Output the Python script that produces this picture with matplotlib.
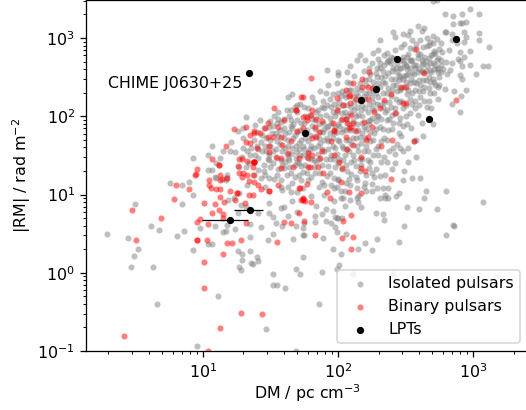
import numpy as np
import matplotlib
matplotlib.use('Agg')
import matplotlib.pyplot as plt

# values, as (log10 DM, log10 RM)
isolated = [
    (0.29,0.49),(0.50,0.88),(0.45,0.44),(0.52,0.30),(0.49,0.21),(0.47,0.07),(0.63,0.07),(0.66,-0.40),
    (0.62,0.60),(0.68,0.54),(0.81,0.47),(0.86,0.53),(0.85,0.88),(0.93,0.99),(0.76,1.15),(0.85,1.12),
    (0.90,1.16),(0.93,0.29),(1.04,0.37),(1.07,0.37),(0.96,-0.93),(1.11,-0.30),(1.47,-0.72),(1.69,-1.0),
    (1.52,-0.01),(1.52,-0.16),(1.55,-0.16),(1.61,-0.19),(1.27,0.07),(1.28,0.03),(1.29,0.16),(1.26,0.28),
    (1.29,0.24),(1.35,0.28),(1.36,0.13),(1.37,0.11),(1.40,0.20),(1.41,0.15),(1.69,0.05),(1.72,-0.02),
    (1.74,0.20),(1.48,0.42),(1.67,0.43),(1.52,0.50),(1.35,0.46),(1.15,0.52),(1.17,0.53),(1.09,0.60),
    (0.98,0.57),(1.18,0.61),(1.24,0.56),(1.35,0.62),(1.43,0.58),(1.59,0.60),(1.69,0.60),(1.74,0.57),
    (1.74,0.48),(1.86,-0.40),(1.88,0.01),(1.99,0.05),(2.01,0.10),(2.11,-0.01),(2.41,-0.01),(2.02,0.24),
    (1.96,0.30),(2.15,0.30),(2.25,0.29),(2.20,0.38),(2.29,0.43),(2.45,0.39),(2.80,0.48),(2.85,0.61),
    (2.86,0.60),(2.49,0.60),(3.07,0.90),(2.73,0.82),(2.60,0.82),(2.51,0.84),(2.80,1.04),(2.65,1.04),
    (2.64,0.95),(2.33,0.75),(2.34,0.67),(2.28,0.77),(1.89,0.45),(2.06,0.50),(1.99,0.52),(1.98,0.58),
    (1.99,0.70),(1.95,0.63),(1.91,0.66),(1.83,0.65),(1.88,0.75),(1.83,0.72),(1.91,0.82),(1.96,0.79),
    (2.03,0.70),(2.00,0.70),(1.98,0.71),(1.75,0.48),(1.75,0.63),(2.15,0.90),(2.17,0.84),(2.14,0.96),
    (2.09,0.93),(2.04,0.95),(2.02,0.95),(1.97,1.08),(2.05,1.04),(2.14,1.08),(2.19,1.10),(2.25,1.13),
    (2.21,1.04),(2.25,1.05),(2.33,1.08),(2.37,1.08),(2.35,1.00),(2.31,0.95),(2.37,0.95),(2.43,0.98),
    (2.45,1.02),(2.35,0.95),(2.48,1.18),(2.55,1.21),(2.61,1.21),(2.14,1.18),(2.06,1.15),(2.21,1.25),
    (2.31,1.24),(2.00,1.18),(1.97,1.21),
    # upper right
    (2.70,3.47),(2.73,3.48),(2.79,3.31),(2.85,3.28),(2.92,3.31),(2.98,3.37),(3.04,3.31),(2.85,3.18),
    (2.90,3.19),(2.92,3.19),(2.95,3.20),(2.59,3.15),(2.64,3.13),(2.62,3.09),(2.79,3.08),(2.80,3.08),
    (2.84,3.05),(2.93,3.08),(3.04,3.06),(2.95,3.01),(3.04,2.98),(3.12,2.88),(2.41,3.08),(2.42,3.01),
    (2.48,3.05),(2.53,3.09),(2.52,3.04),(2.31,2.97),(2.70,3.03),(2.73,2.99),(2.76,2.94),(2.66,3.00),
    (2.68,2.95),(2.61,2.97),(2.49,2.92),(2.55,2.97),(2.47,2.88),(2.53,2.87),(2.58,2.92),(2.63,2.88),
    (2.67,2.91),(2.70,2.94),(2.88,2.94),(2.84,2.97),(2.93,2.95),(2.90,2.82),(2.98,2.83),(2.82,2.85),
    (2.75,2.86),(2.71,2.83),(2.80,2.69),(2.84,2.68),(2.89,2.73),(2.93,2.76),(2.90,2.71),(2.92,2.64),
    (2.98,2.65),(3.07,2.64),(3.11,2.64),(3.02,2.54),(2.83,2.59),(2.81,2.54),(2.90,2.53),(2.92,2.48),
    (2.95,2.33),(2.86,2.32),(2.91,2.26),(2.84,2.16),(2.90,2.05),(1.92,2.59),(2.00,2.57),(2.07,2.57),
    (2.00,2.53),(2.09,2.64),(2.16,2.78),(2.20,2.72),(2.14,2.72),(2.26,2.81),(2.30,2.85),(2.30,2.73),
    (2.36,2.81),(2.31,2.68),(2.36,2.69),(2.39,2.76),(2.48,2.76),(2.53,2.72),(2.50,2.65),(2.47,2.62),
    (2.41,2.62),(2.45,2.53),(2.50,2.53),(2.56,2.65),(2.59,2.74),(2.63,2.68),(2.67,2.74),(2.72,2.81),
    (2.74,2.74),(2.70,2.68),(2.76,2.65),(2.74,2.56),(2.68,2.59),
    # left edge of the cloud
    (0.93,1.47),(1.04,1.51),(1.07,1.62),(1.15,1.56),(1.20,1.56),(1.21,1.67),(1.32,1.99),(1.26,1.81),
    (1.30,1.85),(1.63,2.25),(1.66,2.28),(1.72,2.16),(1.70,2.15),(1.65,2.08),(1.62,2.08),(1.56,2.05),
    (1.50,1.94),(1.60,1.96),(1.65,1.95),(1.56,1.97),(1.55,1.91),(1.49,1.86),(1.45,1.85),(1.39,1.89),
    (1.40,1.80),(1.10,1.40),(1.13,1.47),(1.07,1.31),(1.04,1.31),(1.09,1.22),(1.18,1.25),(1.17,1.21),
    (1.24,1.54),(1.30,1.59),(1.29,1.48),(1.27,1.35),(1.32,1.35),(1.41,1.47),(1.45,1.38),(1.49,1.51),
    (1.58,1.44),(1.63,1.47),(1.69,1.54),(1.74,1.51),(1.70,1.41),(1.78,1.54),(1.60,1.34),(1.50,1.35),
    (1.41,1.31),(1.37,1.25),(1.46,1.25),(1.55,1.25),(1.65,1.27),(1.74,1.29),(1.10,1.21),(1.17,1.19),
    (1.19,0.93),(1.23,0.95),(1.27,1.02),(1.33,1.12),(1.43,1.21),(1.49,1.21),(1.58,1.18),(1.63,1.09),
    (1.65,1.03),(1.70,1.03),(1.59,1.06),(1.49,0.89),(1.49,0.77),(1.52,0.71),(1.58,0.83),(1.60,0.84),
    (1.28,0.86),(1.32,0.84),(1.26,0.77),(1.41,0.76),(1.54,0.63),(1.63,0.72),(1.70,0.78),(1.66,0.92),
    # main cloud, first pass
    (1.30,1.72),(1.33,1.55),(1.34,1.40),(1.36,1.60),(1.38,1.70),(1.39,1.50),(1.42,1.95),(1.43,1.67),
    (1.44,1.55),(1.45,1.30),(1.46,1.10),(1.47,1.72),(1.48,1.46),(1.50,1.62),(1.51,1.79),(1.52,1.40),
    (1.53,1.20),(1.53,2.00),(1.54,1.58),(1.55,1.68),(1.56,1.33),(1.57,1.82),(1.58,1.10),(1.59,1.55),
    (1.60,1.72),(1.60,1.85),(1.61,1.42),(1.62,1.25),(1.63,1.62),(1.64,1.80),(1.64,2.00),(1.65,1.52),
    (1.66,1.15),(1.67,1.72),(1.67,1.90),(1.68,1.38),(1.69,1.62),(1.70,2.05),(1.70,1.80),(1.71,1.25),
    (1.72,1.50),(1.73,1.70),(1.73,1.92),(1.74,1.08),(1.75,2.12),(1.75,1.58),(1.76,1.38),(1.77,1.82),
    (1.78,1.68),(1.78,1.18),(1.79,2.02),(1.80,1.45),(1.80,0.98),(1.81,1.88),(1.82,1.60),(1.82,2.18),
    (1.83,1.28),(1.83,1.75),(1.84,0.85),(1.85,2.08),(1.85,1.52),(1.86,1.90),(1.86,1.10),(1.87,1.66),
    (1.87,2.32),(1.88,1.38),(1.89,1.80),(1.89,2.20),(1.90,1.00),(1.90,1.56),(1.91,2.02),(1.92,1.24),
    (1.92,1.72),(1.93,2.40),(1.93,1.88),(1.94,1.45),(1.95,2.12),(1.95,1.12),(1.96,1.62),(1.96,2.28),
    (1.97,1.78),(1.97,0.92),(1.98,1.35),(1.98,2.00),(1.99,1.52),(1.99,2.42),(2.00,1.90),(2.00,1.20),
    (2.01,2.18),(2.01,1.68),(2.02,1.05),(2.03,2.32),(2.03,1.80),(2.04,1.44),(2.05,2.06),(2.05,0.85),
    (2.06,1.58),(2.06,2.24),(2.07,1.30),(2.07,2.44),(2.08,1.70),(2.08,1.90),(2.09,1.12),(2.10,2.12),
    (2.10,2.34),(2.11,1.50),(2.12,1.82),(2.12,2.52),(2.13,1.22),(2.13,2.00),(2.14,1.62),(2.15,2.26),
    (2.15,0.98),(2.16,2.42),(2.16,1.74),(2.17,1.38),(2.18,1.92),(2.18,2.15),(2.19,2.58),(2.19,1.55),
    (2.20,1.15),(2.21,2.30),(2.21,1.84),(2.22,2.05),(2.22,1.44),(2.23,2.48),(2.24,1.68),(2.24,1.95),
    (2.25,2.68),(2.25,1.28),(2.26,2.18),(2.27,1.78),(2.27,2.38),(2.28,1.58),(2.28,2.55),(2.29,1.08),
    (2.30,2.00),(2.30,2.25),(2.31,1.86),(2.31,2.62),(2.32,1.42),(2.33,2.44),(2.33,2.12),(2.34,1.72),
    (2.34,2.78),(2.35,1.25),(2.36,2.30),(2.36,1.95),(2.37,2.55),(2.38,1.55),(2.38,2.18),(2.39,2.68),
    (2.40,2.02),(2.40,1.84),(2.41,2.40),(2.42,1.40),(2.42,2.85),(2.43,2.22),(2.44,2.56),(2.44,1.65),
    (2.45,1.92),(2.46,2.72),(2.46,2.34),(2.47,1.75),(2.48,2.48),(2.48,2.10),(2.49,1.30),(2.50,2.64),
    (2.50,2.00),(2.51,2.28),(2.52,2.80),(2.52,1.60),(2.53,2.42),(2.54,1.85),(2.55,2.55),(2.55,2.16),
    (2.56,2.86),(2.57,2.34),(2.58,1.48),(2.58,2.66),(2.59,2.02),(2.60,2.46),(2.61,2.80),(2.61,2.24),
    (2.62,2.58),(2.63,1.75),(2.64,2.38),(2.65,2.70),(2.66,2.12),(2.66,2.90),(2.67,2.50),(2.68,2.30),
    (2.69,2.78),(2.70,1.90),(2.71,2.60),(2.72,2.40),(2.73,2.72),(2.74,2.22),(2.75,2.50),(2.77,2.82),
    (2.78,2.60),(2.79,2.35),(2.58,1.70),(2.52,1.42),
    # main cloud, second pass
    (1.40,1.62),(1.47,1.56),(1.52,1.88),(1.56,1.75),(1.61,1.60),(1.66,1.85),(1.68,2.12),(1.71,1.66),
    (1.75,1.80),(1.76,2.00),(1.79,1.58),(1.81,2.25),(1.83,1.95),(1.84,1.42),(1.86,1.72),(1.88,2.12),
    (1.90,1.84),(1.91,2.30),(1.93,1.58),(1.94,1.98),(1.96,2.05),(1.97,1.46),(1.99,1.80),(2.00,2.30),
    (2.02,1.95),(2.04,1.60),(2.04,2.14),(2.06,1.82),(2.07,2.00),(2.09,2.42),(2.10,1.42),(2.11,1.72),
    (2.12,2.18),(2.14,1.90),(2.14,2.36),(2.15,1.55),(2.17,2.08),(2.18,1.78),(2.20,2.46),(2.20,2.22),
    (2.21,1.62),(2.23,1.90),(2.23,2.62),(2.25,2.10),(2.26,2.32),(2.26,1.50),(2.28,1.94),(2.29,2.16),
    (2.29,2.50),(2.31,2.38),(2.32,1.68),(2.33,2.58),(2.35,2.05),(2.35,2.42),(2.37,1.82),(2.38,2.70),
    (2.39,2.26),(2.39,2.48),(2.41,1.60),(2.42,2.10),(2.43,2.62),(2.44,2.32),(2.45,1.78),(2.46,2.50),
    (2.47,2.20),(2.49,2.68),(2.49,2.38),(2.51,1.90),(2.52,2.54),(2.53,2.22),(2.54,2.70),(2.56,2.44),
    (2.57,2.10),(2.59,2.56),(2.60,2.32),(2.62,2.72),(2.63,2.46),(2.64,2.20),(2.65,2.58),(2.67,2.36),
    (2.68,2.68),(2.70,2.48),(2.71,2.30),(2.73,2.60),(2.75,2.40),(2.76,2.72),(2.69,2.10),(2.62,1.92),
    (2.56,1.68),(2.48,1.55),(2.40,1.32),(2.34,1.48),(2.27,1.22),(2.23,1.34),(2.16,1.30),(2.08,1.20),
    (2.03,1.32),(1.94,1.28),(1.88,1.16),(1.82,1.35),(1.77,1.28),(1.71,1.40),(1.64,1.35),
    # main cloud, third pass
    (1.35,1.50),(1.37,1.42),(1.41,1.58),(1.44,1.76),(1.46,1.62),(1.49,1.44),(1.50,1.70),(1.52,1.56),
    (1.54,1.78),(1.55,1.47),(1.57,1.65),(1.58,1.93),(1.59,1.38),(1.61,1.78),(1.62,1.52),(1.63,1.70),
    (1.64,1.44),(1.65,1.88),(1.66,1.60),(1.68,1.76),(1.69,1.47),(1.70,1.95),(1.71,1.58),(1.72,1.82),
    (1.73,1.36),(1.74,1.62),(1.75,1.92),(1.76,1.72),(1.77,1.48),(1.78,2.10),(1.79,1.76),(1.80,1.62),
    (1.81,1.96),(1.82,1.44),(1.83,1.84),(1.84,2.05),(1.85,1.62),(1.86,1.46),(1.87,1.80),(1.87,2.00),
    (1.88,1.58),(1.89,1.92),(1.90,2.10),(1.90,1.70),(1.91,1.45),(1.92,1.86),(1.92,2.14),(1.93,1.68),
    (1.94,2.22),(1.94,1.78),(1.95,1.50),(1.95,1.92),(1.96,1.72),(1.97,2.16),(1.98,1.86),(1.98,1.60),
    (1.99,2.06),(2.00,1.70),(2.00,2.12),(2.01,1.45),(2.01,1.88),(2.02,2.26),(2.03,1.62),(2.03,2.04),
    (2.04,1.84),(2.05,2.28),(2.05,1.50),(2.06,1.96),(2.06,1.70),(2.07,2.14),(2.08,2.34),(2.08,1.56),
    (2.09,1.82),(2.09,2.04),(2.10,1.64),(2.11,2.24),(2.11,1.94),(2.12,1.44),(2.12,2.08),(2.13,1.72),
    (2.13,2.30),(2.14,2.12),(2.15,1.82),(2.15,2.02),(2.16,1.46),(2.16,2.20),(2.17,1.66),(2.17,2.34),
    (2.18,2.00),(2.19,1.86),(2.19,2.26),(2.20,1.72),(2.20,2.10),(2.21,2.40),(2.22,1.94),(2.22,1.56),
    (2.23,2.16),(2.23,2.30),(2.24,1.80),(2.24,2.54),(2.25,1.98),(2.25,2.24),(2.26,1.70),(2.26,2.44),
    (2.27,2.08),(2.28,1.84),(2.28,2.30),(2.29,2.00),(2.29,2.62),(2.30,1.62),(2.30,2.42),(2.31,2.14),
    (2.32,1.96),(2.32,2.50),(2.33,2.30),(2.33,1.84),(2.34,2.66),(2.34,2.18),(2.35,2.52),(2.36,2.08),
    (2.36,1.70),(2.37,2.36),(2.37,2.72),(2.38,1.96),(2.39,2.12),(2.40,2.58),(2.40,2.34),(2.41,1.92),
    (2.41,2.74),(2.42,2.48),(2.43,2.04),(2.43,2.40),(2.44,2.68),(2.45,2.18),(2.45,2.46),(2.46,1.98),
    (2.46,2.62),(2.47,2.36),(2.48,2.72),(2.48,1.88),(2.49,2.52),(2.50,2.14),(2.50,2.44),(2.51,2.60),
    (2.51,2.76),(2.52,2.34),(2.53,2.04),(2.53,2.62),(2.54,2.48),(2.55,2.30),(2.55,2.72),(2.56,2.54),
    (2.57,2.20),(2.57,2.62),(2.58,2.42),(2.59,2.80),(2.60,2.14),(2.60,2.60),(2.61,2.40),(2.62,2.66),
    (2.63,2.32),(2.63,2.56),(2.64,2.76),(2.65,2.46),(2.66,2.64),(2.67,2.20),(2.68,2.44),(2.69,2.56),
    (2.70,2.80),(2.71,2.44),(2.72,2.66),(2.74,2.38),(2.74,2.62),(2.76,2.56),(2.46,1.60),(2.36,1.42),
    (2.30,1.50),(2.24,1.42),(2.18,1.46),(2.13,1.36),(2.06,1.38),(2.00,1.40),(1.93,1.36),(1.87,1.28),
    (1.80,1.22),(1.73,1.18),(1.68,1.22),(1.90,1.12),(1.99,1.10),(2.10,1.26),(2.28,1.32),(2.42,1.52),
]

binary = [
    (0.48,0.80),(0.51,0.42),(0.69,0.70),(0.79,0.94),(0.80,1.12),(0.90,1.07),(0.96,0.65),(0.98,0.69),
    (0.96,0.42),(0.96,0.42),(1.04,0.62),(1.03,0.42),(1.01,0.14),(1.01,-0.19),(1.15,0.24),(1.18,0.38),
    (1.22,0.38),(1.28,0.42),(1.55,0.39),(1.28,-0.52),(1.44,-0.53),(1.13,-0.71),(0.42,-0.81),(1.04,-1.0),
    (1.32,0.63),(1.15,0.75),(1.15,0.70),(1.07,0.76),(1.12,0.80),(1.09,0.88),(1.01,0.89),(1.16,0.90),
    (1.31,0.89),(1.13,0.97),(1.24,0.93),(1.25,1.02),(1.25,1.02),(1.20,1.04),(1.34,0.99),(1.37,0.99),
    (1.13,1.07),(1.10,1.07),(1.05,1.12),(1.06,1.08),(1.05,1.18),(1.13,1.18),(1.18,1.21),(0.94,1.25),
    (1.29,1.23),(1.34,1.17),(1.38,1.16),(1.41,1.12),(1.43,1.07),(1.49,1.04),(1.49,1.04),(1.60,0.65),
    (1.65,0.63),(1.71,0.77),(1.73,0.93),(1.74,0.94),(1.71,1.08),(1.56,1.12),
    (0.95,1.26),(0.96,1.32),(1.07,1.45),(1.12,1.38),(1.12,1.38),(1.17,1.62),(1.23,1.84),(1.32,1.86),
    (1.32,1.67),(1.35,1.66),(1.35,1.76),(1.38,1.78),(1.38,1.81),(1.42,1.78),(1.40,1.59),(1.13,1.25),
    (1.14,1.20),(1.27,1.45),(1.29,1.45),(1.33,1.43),(1.38,1.41),(1.38,1.41),(1.38,1.42),(1.38,1.42),
    (1.26,1.36),(1.30,1.27),(1.33,1.25),(1.27,1.27),(1.38,1.25),(1.37,1.35),(1.48,1.91),(1.46,1.85),
    (1.53,2.10),(1.56,1.86),(1.60,1.95),(1.69,2.08),(1.70,1.81),(1.74,1.85),(1.52,1.74),(1.58,1.74),
    (1.48,1.74),(1.49,1.54),(1.54,1.48),(1.58,1.47),(1.63,1.53),(1.67,1.35),(1.71,1.47),(1.65,1.68),
    (1.59,1.63),(1.49,1.62),(1.78,1.47),(1.78,1.35),(1.58,1.34),
    (1.80,2.49),(2.23,2.57),(2.64,2.55),(2.18,2.48),(2.11,2.42),(2.06,2.33),(2.18,2.37),(2.22,2.37),
    (2.25,2.36),(2.08,2.26),(2.09,2.27),(1.99,2.23),(2.47,2.37),(2.50,2.37),(2.39,2.29),(2.34,2.21),
    (2.22,2.22),(2.13,2.22),(2.09,2.17),(2.04,2.14),(2.48,2.17),(2.50,2.17),(2.31,2.10),(2.27,2.05),
    (2.42,2.04),(1.99,2.08),(2.10,2.02),(1.81,2.08),(1.80,2.02),(2.06,1.96),(2.03,1.96),(1.96,1.92),
    (2.19,1.93),(2.11,1.91),(2.07,1.91),(2.10,1.86),(2.08,1.85),(2.25,1.86),(1.88,1.94),(1.84,1.96),
    (1.77,1.95),(1.74,1.99),(1.83,1.86),(1.97,1.82),(1.97,1.81),(2.13,1.81),(1.86,1.80),(1.81,1.72),
    (1.84,1.74),(2.06,1.74),(1.95,1.68),(2.22,1.74),(2.21,1.70),(2.40,1.70),(2.56,1.68),(2.32,1.62),
    (2.11,1.63),(2.07,1.58),(1.88,1.55),(1.78,1.53),(1.81,1.51),(1.97,1.51),(1.87,1.47),(2.17,1.48),
    (1.77,1.99),(1.74,2.25),
    (2.01,1.41),(2.03,1.34),(2.17,1.34),(2.20,1.30),(2.39,1.20),(2.02,1.16),(1.89,1.27),(1.79,1.35),
    (1.85,1.35),(1.77,1.13),(1.72,1.08),(1.92,1.03),(2.08,1.03),(2.17,1.02),(1.94,0.95),(1.74,0.95),
    (1.74,0.93),(1.80,0.90),(1.76,0.92),(2.10,0.74),(2.04,0.66),(1.75,0.66),(1.83,0.48),(2.11,0.46),
    (2.03,0.44),(2.10,0.30),(2.58,2.86),(2.87,2.21),(1.73,2.25),(1.69,2.08),
]

# period-long objects: DM, RM, DM error
lpt_dm = [21.9, 741, 275, 191, 148, 468, 57.5, 22.4, 15.8]
lpt_rm = [355, 977, 537, 224, 162, 91, 61.7, 6.3, 4.7]
lpt_dm_err = [0, 0, 0, 0, 0, 0, 0, 5.5, 6.0]

iso = 10.0 ** np.array(isolated)
bin_ = 10.0 ** np.array(binary)

fig, ax = plt.subplots(figsize=(526 / 114, 410 / 114), dpi=114)

ax.scatter(iso[:, 0], iso[:, 1], s=15, c='grey', alpha=0.5, lw=0, label='Isolated pulsars')
ax.scatter(bin_[:, 0], bin_[:, 1], s=15, c='red', alpha=0.5, lw=0, label='Binary pulsars')
ax.errorbar(lpt_dm, lpt_rm, xerr=lpt_dm_err, fmt='none', ecolor='k', lw=0.8)
ax.scatter(lpt_dm, lpt_rm, s=21, c='k', lw=0, label='LPTs', zorder=3)
ax.annotate('CHIME J0630+25', (lpt_dm[0], lpt_rm[0]), xytext=(-4, -2),
            textcoords='offset points', ha='right', va='top')

ax.set_xscale('log')
ax.set_yscale('log')
ax.set_xlim(1.37, 2545)
ax.set_ylim(0.1, 3060)
ax.set_xlabel('DM / pc cm$^{-3}$', labelpad=1)
ax.set_ylabel('|RM| / rad m$^{-2}$', labelpad=2.5)
ax.legend(loc='lower right')

fig.subplots_adjust(left=86 / 526, right=528 / 526, top=1.0, bottom=1 - 351 / 410)
fig.savefig('out.png', dpi=114)
